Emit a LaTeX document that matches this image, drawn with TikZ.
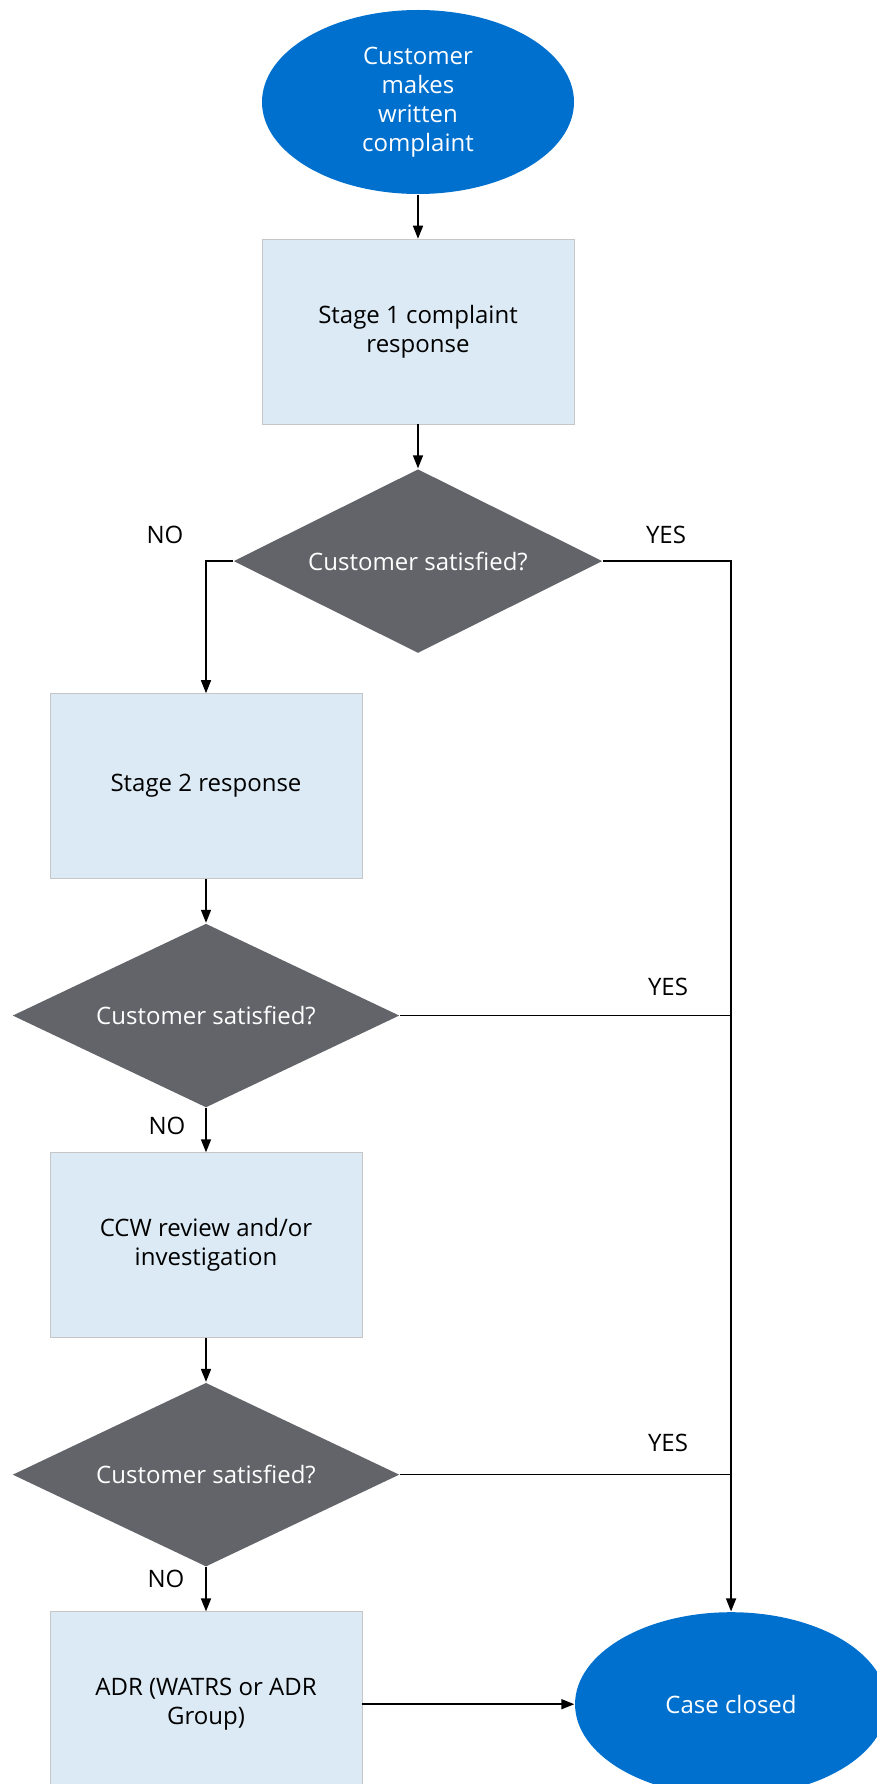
\documentclass[tikz,border=0pt]{standalone}
\usepackage{fontspec}
\setmainfont{Open Sans}
\usetikzlibrary{positioning,shapes.geometric,arrows.meta}
\definecolor{ccwblue}{RGB}{0,112,206}
\definecolor{paleblue}{RGB}{219,234,244}
\definecolor{slate}{RGB}{99,100,106}
\tikzstyle{term}=[%
      ellipse, fill=ccwblue, text=white, draw=none,
      minimum width=312pt, minimum height=184pt, inner sep=0pt, align=center,
      font=\fontsize{24}{29}\selectfont
]
\tikzstyle{stage}=[%
      rectangle, draw=gray!45, line width=0.6pt, fill=paleblue,
      minimum width=312pt, minimum height=185pt, inner sep=6pt, align=center,
      font=\fontsize{24}{29}\selectfont
]
\tikzstyle{query}=[%
      diamond, aspect=2, fill=slate, text=white, draw=none,
      minimum width=387pt, minimum height=184pt, inner sep=0pt, align=center,
      font=\fontsize{24}{29}\selectfont
]
\tikzstyle{lbl}=[%
      inner sep=0pt, font=\fontsize{24}{29}\selectfont
]

\begin{document}
\begin{tikzpicture}[x=1pt, y=1pt,
    ->,
    >={Triangle[length=13pt,width=10pt]},
    line width=1.5pt
  ]
    \useasboundingbox (0,0) rectangle (877,-1784);

    \node[term]  (start) at (418,-102)      {Customer\\makes\\written\\complaint};
    \node[stage] (s1) [below=44pt of start] {Stage 1 complaint\\response};
    \node[query, minimum width=369pt] (d1) [below=44pt of s1] {Customer satisfied?};
    \node[stage] (s2) at (206,-786)         {Stage 2 response};
    \node[query] (d2) [below=44pt of s2]    {Customer satisfied?};
    \node[stage] (s3) [below=44pt of d2]    {CCW review and/or\\investigation};
    \node[query] (d3) [below=44pt of s3]    {Customer satisfied?};
    \node[stage] (s4) [below=44pt of d3]    {ADR (WATRS or ADR\\Group)};
    \node[term]  (end) [right=212pt of s4]  {Case closed};

    % yes / no labels
    \node[lbl] (no1)  at (165,-535)  {NO};
    \node[lbl] (yes1) at (666,-535)  {YES};
    \node[lbl] (yes2) at (668,-987)  {YES};
    \node[lbl] (no2)  at (167,-1126) {NO};
    \node[lbl] (yes3) at (668,-1443) {YES};
    \node[lbl] (no3)  at (166,-1579) {NO};

    \draw (start) -- (s1);
    \draw (s1) -- (d1);
    \draw (d1.west) -| (s2.north);
    \draw (s2) -- (d2);
    \draw (d2) -- (s3);
    \draw (s3) -- (d3);
    \draw (d3) -- (s4);
    \draw (s4) -- (end);
    \draw (d1.east) -| (end.north);
    \draw[-] (d2.east) -- (d2.east -| end.north);
    \draw[-] (d3.east) -- (d3.east -| end.north);
\end{tikzpicture}
\end{document}
